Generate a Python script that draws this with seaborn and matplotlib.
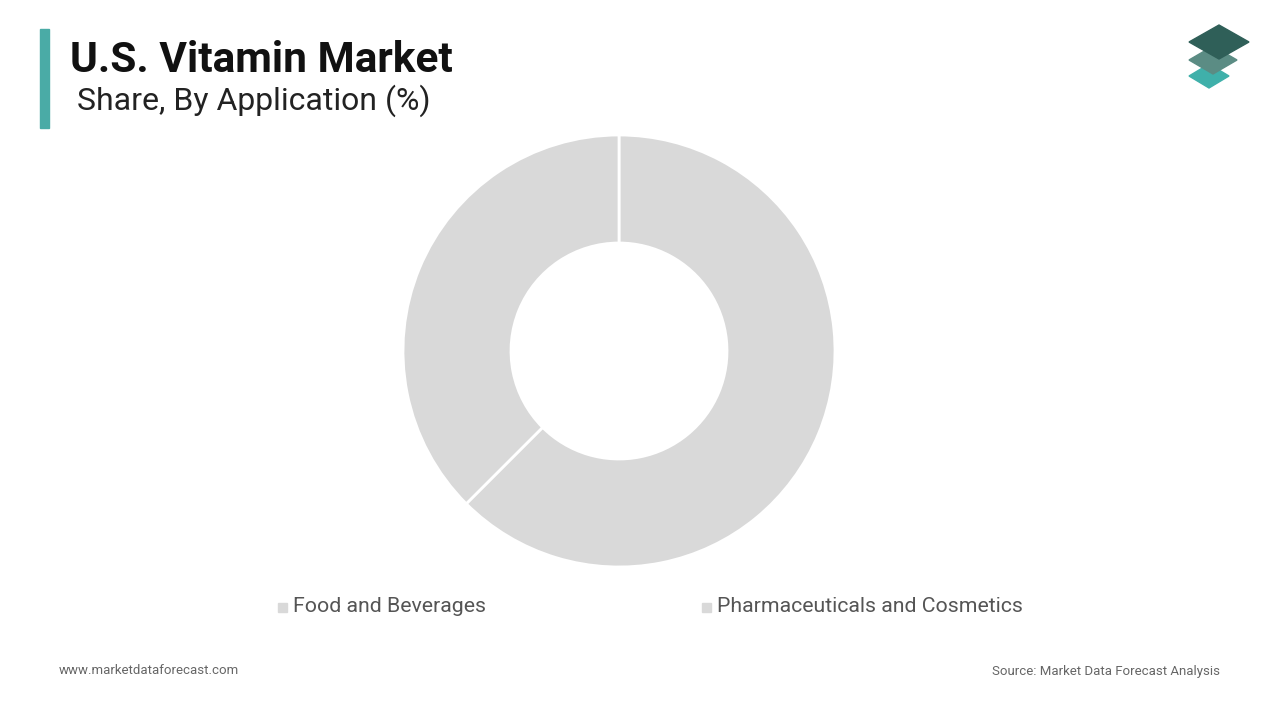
import matplotlib
matplotlib.use("Agg")
import matplotlib.pyplot as plt
import seaborn as sns
from matplotlib.patches import Rectangle, Polygon

sns.set_theme(style="white")
plt.rcParams['font.family'] = ['Roboto', 'DejaVu Sans']

categories = ["Food and Beverages", "Pharmaceuticals and Cosmetics"]
shares = [62.5, 37.5]
colors = ["#d9d9d9", "#d9d9d9"]

fig = plt.figure(figsize=(12.8, 7.2), dpi=100)
W, H = 1280, 720
cx, cy, r = 619, 351, 216
ax = fig.add_axes([(cx - r) / W, (H - cy - r) / H, 2 * r / W, 2 * r / H])
ax.pie(shares, colors=colors, startangle=90, counterclock=False,
       wedgeprops=dict(width=0.5, edgecolor="white", linewidth=2))
ax.set_xlim(-1, 1)
ax.set_ylim(-1, 1)
ax.set_aspect("equal")
ax.axis("off")

# title block
fig.patches.append(Rectangle((40 / W, 1 - 128 / H), 9 / W, 99 / H, transform=fig.transFigure,
                             color="#4aaba6", zorder=5))
fig.text(70 / W, 1 - 60 / H, "U.S. Vitamin Market", fontsize=30.5, fontweight="bold",
         color="#111111", va="center")
fig.text(77 / W, 1 - 101 / H, "Share, By Application (%)", fontsize=23,
         color="#222222", va="center")

# legend
for x, lab in zip([278, 702], categories):
    fig.patches.append(Rectangle((x / W, 1 - 612 / H), 9 / W, 9 / H, transform=fig.transFigure,
                                 color="#d9d9d9"))
    fig.text((x + 15) / W, 1 - 607 / H, lab, fontsize=15.3, color="#555555", va="center")

# footer
fig.text(59 / W, 1 - 671 / H, "www.marketdataforecast.com", fontsize=9.5, color="#666666", va="center")
fig.text(1220 / W, 1 - 671 / H, "Source: Market Data Forecast Analysis", fontsize=9.5,
         color="#666666", va="center", ha="right")

# logo
def diamond(cxp, cyp, w, h, col):
    pts = [((cxp - w) / W, 1 - cyp / H), (cxp / W, 1 - (cyp - h) / H),
           ((cxp + w) / W, 1 - cyp / H), (cxp / W, 1 - (cyp + h) / H)]
    fig.patches.append(Polygon(pts, closed=True, transform=fig.transFigure, color=col))
diamond(1209, 76, 20, 12, "#3fb0aa")
diamond(1213, 60, 24, 14, "#5b8c84")
diamond(1219, 42, 30, 17, "#2f5f58")

fig.savefig("out.png", dpi=100)
